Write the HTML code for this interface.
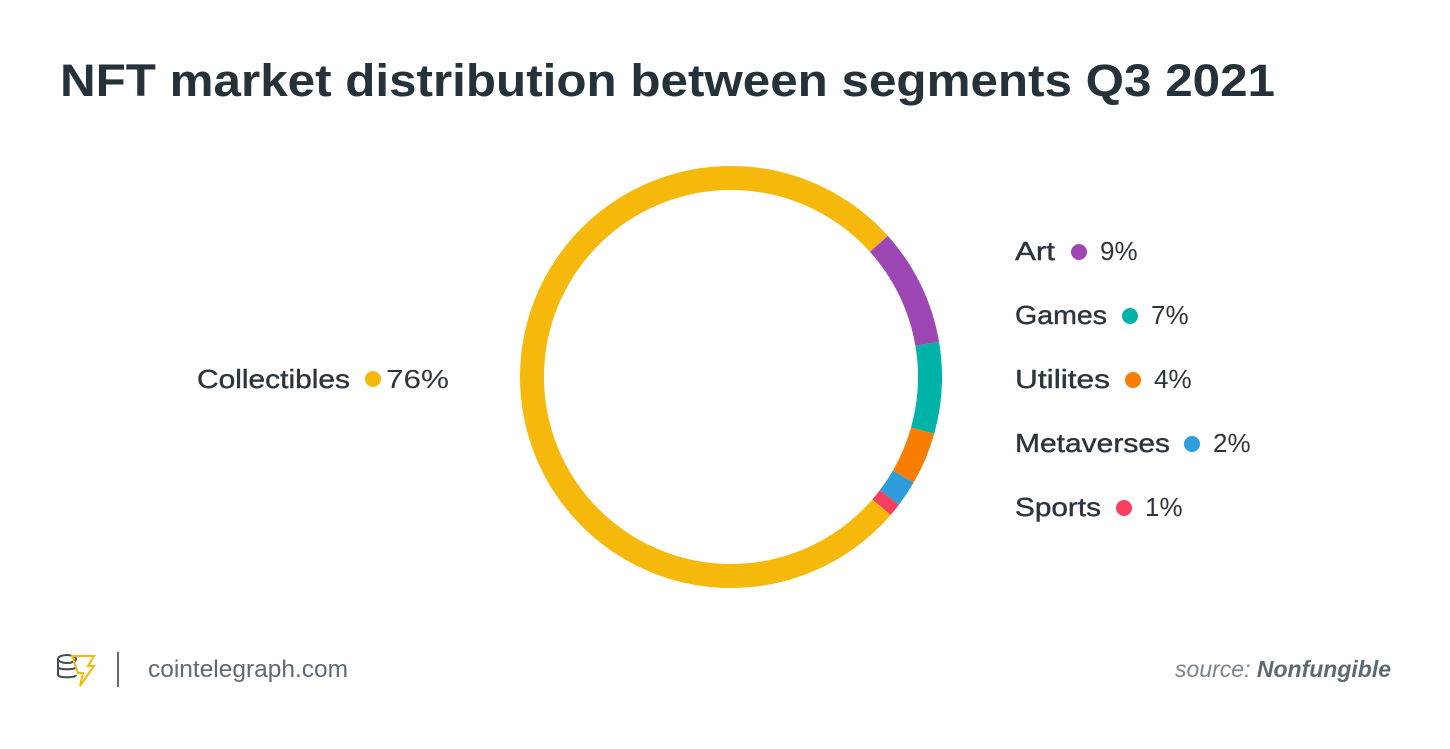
<!DOCTYPE html>
<html><head><meta charset="utf-8"><style>
html,body{margin:0;padding:0;background:#fff;}
svg{display:block}
text{font-family:"Liberation Sans",sans-serif;}
</style></head><body>
<svg width="1450" height="749" viewBox="0 0 1450 749">
<text x="60" y="96" font-size="45" font-weight="bold" fill="#26323a" textLength="1215" lengthAdjust="spacingAndGlyphs">NFT market distribution between segments Q3 2021</text>
<g transform="translate(731,377) rotate(-42)" fill="none" stroke-width="24">
<circle r="199" stroke="#f5b80b" stroke-dasharray="0 287.58 962.77 100"/>
<circle r="199" stroke="#9c47b3" stroke-dasharray="112.53 2000"/>
<circle r="199" stroke="#00b3a8" stroke-dasharray="0 112.53 87.52 2000"/>
<circle r="199" stroke="#f77e00" stroke-dasharray="0 200.05 50.01 2000"/>
<circle r="199" stroke="#2f9cdb" stroke-dasharray="0 250.06 25.01 2000"/>
<circle r="199" stroke="#f7405d" stroke-dasharray="0 275.07 12.51 2000"/>
</g>
<g font-size="26" fill="#2b353d">
<text x="197" y="388" textLength="153" lengthAdjust="spacingAndGlyphs" stroke="#2b353d" stroke-width="0.4">Collectibles</text>
<circle cx="373" cy="379" r="8" fill="#f5b80b"/>
<text x="386" y="388" textLength="63" lengthAdjust="spacingAndGlyphs">76%</text>
<g stroke="#2b353d" stroke-width="0.4">
<text x="1015" y="260" textLength="40" lengthAdjust="spacingAndGlyphs">Art</text>
<text x="1015" y="324" textLength="92" lengthAdjust="spacingAndGlyphs">Games</text>
<text x="1015" y="388" textLength="95" lengthAdjust="spacingAndGlyphs">Utilites</text>
<text x="1015" y="452" textLength="155" lengthAdjust="spacingAndGlyphs">Metaverses</text>
<text x="1015" y="516" textLength="86" lengthAdjust="spacingAndGlyphs">Sports</text>
</g>
<circle cx="1079" cy="252" r="8" fill="#9c47b3"/><text x="1100" y="260">9%</text>
<circle cx="1130" cy="316" r="8" fill="#00b3a8"/><text x="1151" y="324">7%</text>
<circle cx="1133" cy="380" r="8" fill="#f77e00"/><text x="1154" y="388">4%</text>
<circle cx="1192" cy="444" r="8" fill="#2f9cdb"/><text x="1213" y="452">2%</text>
<circle cx="1124" cy="508" r="8" fill="#f7405d"/><text x="1145" y="516">1%</text>
</g>
<g fill="none" stroke="#444c54" stroke-width="2">
<ellipse cx="67" cy="659" rx="9" ry="4"/>
<path d="M58 659v16c0 3 18 3 18 0M58 667c0 3 18 3 18 0"/>
</g>
<path d="M72 656h22l-6 10h6l-14 20 3-13h-5z" fill="none" stroke="#f5b80b" stroke-width="2"/>
<line x1="118" y1="652" x2="118" y2="687" stroke="#666" stroke-width="2"/>
<text x="148" y="677" font-size="24" fill="#5d6a74" textLength="200" lengthAdjust="spacingAndGlyphs">cointelegraph.com</text>
<text x="1391" y="677" font-size="23" fill="#7a848c" text-anchor="end" font-style="italic">source: <tspan font-weight="bold" fill="#5d6a74">Nonfungible</tspan></text>
</svg>
</body></html>
